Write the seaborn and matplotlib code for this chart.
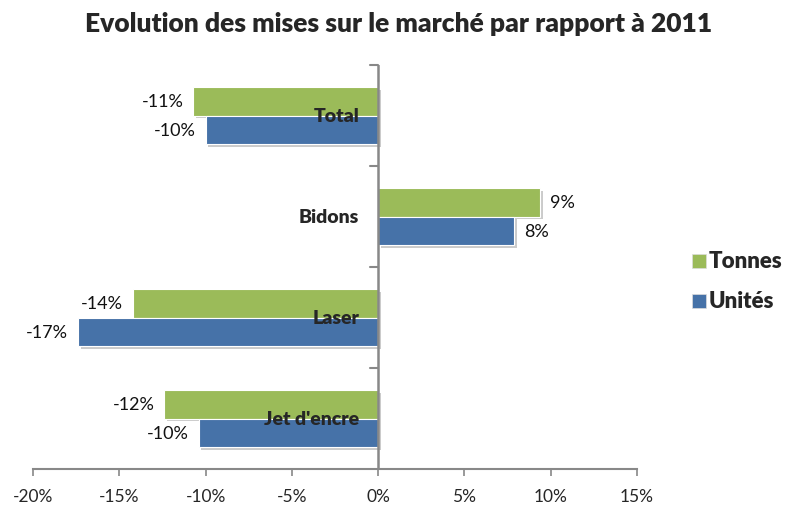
import pandas as pd
import matplotlib.pyplot as plt
import matplotlib.patheffects as pe
import seaborn as sns

categories = ["Total", "Bidons", "Laser", "Jet d'encre"]
series = ["Tonnes", "Unités"]
tonnes = [-10.7, 9.4, -14.2, -12.4]
unites = [-10.0, 7.9, -17.4, -10.4]
x_ticks = [-20, -15, -10, -5, 0, 5, 10, 15]
colors = {"Tonnes": "#9BBB59", "Unités": "#4672A8"}

df = pd.DataFrame({
    "Catégorie": categories * 2,
    "Série": ["Tonnes"] * 4 + ["Unités"] * 4,
    "Valeur": tonnes + unites,
})

sns.set_style("white")
plt.rcParams["font.family"] = ["Lato", "DejaVu Sans"]

fig = plt.figure(figsize=(7.89, 5.06), dpi=100)
ax = fig.add_axes([33 / 789, 1 - 470 / 506, (637 - 33) / 789, (470 - 66) / 506])

sns.barplot(
    data=df, y="Catégorie", x="Valeur", hue="Série",
    order=categories, hue_order=series, palette=colors, saturation=1,
    orient="h", width=0.56, edgecolor="white", linewidth=0.8,
    legend=False, ax=ax,
)

# soft grey drop shadow like the original
shadow = [pe.SimplePatchShadow(offset=(2, -2), shadow_rgbFace="#999999", alpha=0.5), pe.Normal()]
for patch in ax.patches:
    patch.set_path_effects(shadow)

for container, name in zip(ax.containers, series):
    labels = [f"{v:.0f}%" for v in container.datavalues]
    ax.bar_label(container, labels=labels, padding=7, fontsize=13, color="#111111")

ax.set_xlim(-20, 15)
ax.set_ylim(3.5, -0.5)
ax.set_xticks(x_ticks)
ax.set_xticklabels([f"{t}%" for t in x_ticks], fontsize=12.5)
ax.set_xlabel("")
ax.set_ylabel("")

for side in ["top", "right", "left"]:
    ax.spines[side].set_visible(False)
ax.spines["bottom"].set_color("#888888")
ax.spines["bottom"].set_linewidth(1.5)
ax.axvline(0, color="#888888", linewidth=1.8, zorder=5)

ax.tick_params(axis="x", bottom=True, direction="out", length=5, color="#888888", width=1.2, pad=9)
ax.set_yticks([])
for b in [-0.5, 0.5, 1.5, 2.5]:
    ax.plot([-0.45, 0], [b, b], color="#888888", linewidth=1.5, clip_on=False, zorder=5)

for i, cat in enumerate(categories):
    ax.text(-1.1, i, cat, ha="right", va="center", fontsize=14, fontweight="heavy", zorder=6)

fig.text(0.505, 0.953, "Evolution des mises sur le marché par rapport à 2011",
         ha="center", va="center", fontsize=19, fontweight="heavy")

for name, y in zip(series, [262, 302]):
    fig.patches.append(plt.Rectangle((692 / 789, 1 - (y + 7) / 506), 14 / 789, 14 / 506,
                                     transform=fig.transFigure, facecolor=colors[name],
                                     edgecolor="#DDDDDD", linewidth=0.5))
    fig.text(709 / 789, 1 - y / 506, name, ha="left", va="center", fontsize=16, fontweight="heavy")

fig.savefig("out.png", dpi=100)
